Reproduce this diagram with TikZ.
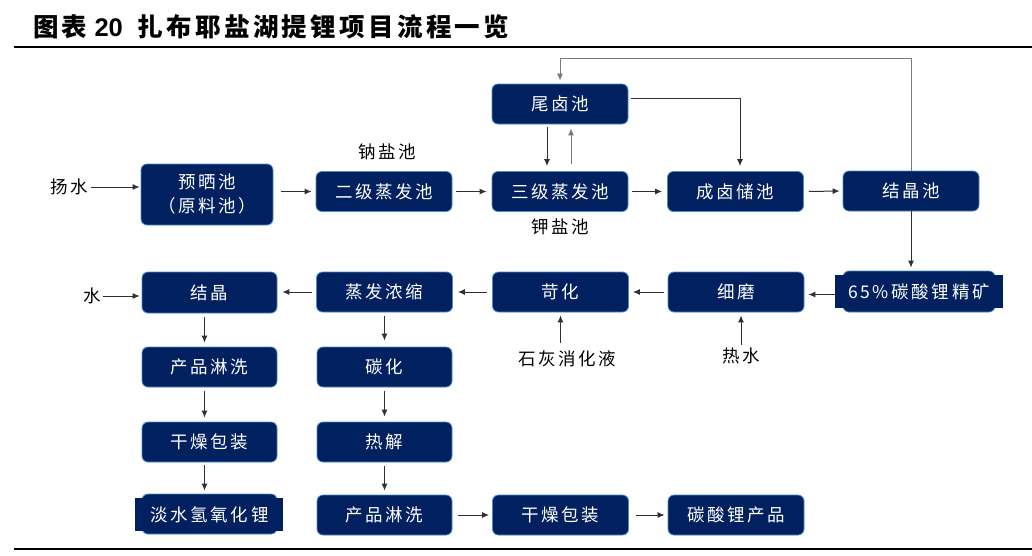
\documentclass[tikz,border=0pt]{standalone}
\usepackage{fontspec}
\newfontfamily\cjk[LetterSpace=15]{Noto Sans CJK SC}
\newfontfamily\cjkt[LetterSpace=13]{Noto Sans CJK SC}
\newfontfamily\latt{Liberation Sans}
\usetikzlibrary{arrows.meta}
\definecolor{navy}{HTML}{002060}
\definecolor{bord}{HTML}{4A8BD0}
\definecolor{arr}{HTML}{303030}
\definecolor{arrg}{HTML}{7A7A7A}
\begin{document}
\begin{tikzpicture}[x=1pt,y=-1pt,
  box/.style={draw=bord, fill=navy, rounded corners=6pt, line width=0.8pt, text=white,
    font=\cjk\fontsize{17.5}{24}\selectfont, inner sep=0pt, align=center,
    minimum width=136pt, minimum height=40pt},
  lbl/.style={font=\cjk\fontsize{17.5}{20}\selectfont, text=black, inner sep=0pt},
  ar/.style={draw=arr, line width=1pt, -{Latex[length=7pt,width=6pt]}},
  arg/.style={ar, draw=arrg}]
\useasboundingbox (0,0) rectangle (1032,555);
\fill[white] (0,0) rectangle (1032,555);

% title
\node[anchor=west, font=\bfseries\fontsize{25.5}{28}\selectfont, inner sep=0pt] (title) at (33,27)
  {{\cjkt 图表}\hspace{7pt}{\latt 20}\hspace{15pt}{\cjkt 扎布耶盐湖提锂项目流程一览}};
\draw[line width=2.5pt] (14,47) -- (1032,47);
\draw[line width=2.5pt] (14,549) -- (1032,549);

% row 1
\node[box, minimum width=132pt, minimum height=61pt] (pre) at (207,194.5) {预晒池\\（原料池）};
\node[box] (er) at (384,191.5) {二级蒸发池};
\node[box] (san) at (560,191.5) {三级蒸发池};
\node[box] (cheng) at (735.5,191.5) {成卤储池};
\node[box] (jie) at (911,191) {结晶池};
\node[box] (wei) at (560,104) {尾卤池};

% row 2
\node[box, minimum width=152pt, minimum height=41pt] (jingbg) at (919,291.5) {};
\fill[navy] (835,275) rectangle (1003,308);
\node[box, draw=none, fill=none, minimum width=168pt, minimum height=33pt] (jing) at (919,291.5) {65\%碳酸锂精矿};
\node[box] (xm) at (736,292) {细磨};
\node[box] (kh) at (560.5,292) {苛化};
\node[box] (zf) at (384.5,292) {蒸发浓缩};
\node[box, minimum width=135pt, minimum height=41pt] (jj) at (209.5,292.5) {结晶};

% column 1
\node[box, minimum width=135pt] (cp1) at (209.5,367) {产品淋洗};
\node[box, minimum width=135pt] (gz1) at (209.5,442) {干燥包装};
\node[box, minimum width=135pt, minimum height=40pt] (danbg) at (209.5,514) {};
\fill[navy] (135,498) rectangle (283,531);
\node[box, draw=none, fill=none, minimum width=148pt, minimum height=33pt] (dan) at (209.5,514.5) {淡水氢氧化锂};

% column 2
\node[box, minimum width=135pt] (th) at (384.5,367) {碳化};
\node[box, minimum width=135pt] (rj) at (384.5,442) {热解};
\node[box, minimum width=135pt] (cp2) at (384.5,515) {产品淋洗};
\node[box] (gz2) at (560.5,515) {干燥包装};
\node[box] (tl) at (736,515) {碳酸锂产品};

% labels
\node[lbl] (yang) at (69,187) {扬水};
\node[lbl] (shui) at (92,296) {水};
\node[lbl] (na) at (387,152) {钠盐池};
\node[lbl] (ka) at (560,227) {钾盐池};
\node[lbl] (shihui) at (567,359) {石灰消化液};
\node[lbl] (reshui) at (741,356) {热水};

% row 1 arrows
\draw[ar, shorten <=3pt, shorten >=1pt] (yang.east) -- (yang.east -| pre.west);
\draw[ar, shorten <=8pt, shorten >=4pt] (pre.east |- er.west) -- (er.west);
\draw[ar, shorten <=4pt, shorten >=5pt] (er.east) -- (san.west);
\draw[ar, shorten <=4pt, shorten >=5pt] (san.east) -- (cheng.west);
\draw[ar, shorten <=5pt, shorten >=3pt] (cheng.east) -- (jie.west);
\draw[ar, shorten >=3pt] (jie.south) -- (jie.south |- jingbg.north);

% feedback loops
\coordinate (fbR) at (911,58);
\coordinate (fbL) at (560,58);
\draw[arg, shorten >=3pt] (jie.north) -- (fbR) -- (fbL) -- (wei.north);
\coordinate (wc) at (740,98);
\draw[ar, shorten >=5pt] ([xshift=3pt,yshift=6pt]wei.east) -- (wc) -- (wc |- cheng.north);
\draw[ar, shorten <=3pt, shorten >=5pt] ([xshift=-13pt]wei.south) -- ([xshift=-13pt]san.north);
\draw[arg, shorten <=7pt, shorten >=4pt] ([xshift=11pt]san.north) -- ([xshift=11pt]wei.south);

% row 2 arrows
\draw[ar, shorten >=4pt] ([yshift=-3pt]jing.west) -- ([yshift=-3pt]jing.west -| xm.east);
\draw[ar, shorten <=4pt, shorten >=4pt] (xm.west) -- (kh.east);
\draw[ar, shorten <=5pt, shorten >=5pt] (kh.west) -- (zf.east);
\draw[ar, shorten <=4pt, shorten >=5pt] (zf.west) -- (zf.west -| jj.east);
\draw[ar, shorten <=2pt, shorten >=2pt] (shui.east) -- (shui.east -| jj.west);
\draw[ar, shorten <=8pt, shorten >=3pt] (kh.south |- shihui.north) -- (kh.south);
\draw[ar, shorten <=3pt, shorten >=3pt] (reshui.north) -- (reshui.north |- xm.south);

% column arrows
\draw[ar, shorten <=4pt, shorten >=4pt] ([xshift=-5pt]jj.south) -- ([xshift=-5pt]cp1.north);
\draw[ar, shorten <=4pt, shorten >=4pt] ([xshift=-5pt]cp1.south) -- ([xshift=-5pt]gz1.north);
\draw[ar, shorten <=3pt, shorten >=3pt] ([xshift=-5pt]gz1.south) -- ([xshift=-5pt]danbg.north);
\draw[ar, shorten <=4pt, shorten >=6pt] (zf.south) -- (th.north);
\draw[ar, shorten <=4pt, shorten >=5pt] (th.south) -- (rj.north);
\draw[ar, shorten <=4pt, shorten >=4pt] (rj.south) -- (cp2.north);
\draw[ar, shorten <=6pt, shorten >=3pt] (cp2.east) -- (gz2.west);
\draw[ar, shorten <=7pt, shorten >=3pt] (gz2.east) -- (tl.west);
\end{tikzpicture}
\end{document}
